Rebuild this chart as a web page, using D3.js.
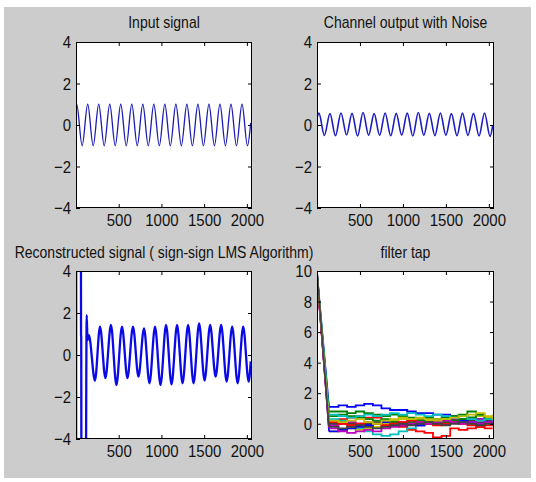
<!DOCTYPE html>
<html><head><meta charset="utf-8">
<script src="https://cdn.jsdelivr.net/npm/d3@7"></script>
<style>
html,body{margin:0;padding:0;background:#fff;}
svg{display:block;}
</style>
</head><body>
<svg id="c" width="536" height="482"></svg>
<script>
// ---------------- data ----------------
const titles = ["Input signal", "Channel output with Noise", "Reconstructed signal ( sign-sign LMS Algorithm)", "filter tap"];
const xTicks = [500, 1000, 1500, 2000];
const signalYTicks = [-4, -2, 0, 2, 4];
const tapYTicks = [0, 2, 4, 6, 8, 10];

// Input signal: start, alternating peaks/troughs, end
const inputX = [1, 8, 72, 137, 201, 266, 330, 395, 459, 524, 588, 653, 717, 782, 846, 911, 975, 1040, 1104, 1169, 1233, 1298, 1362, 1427, 1491, 1556, 1620, 1685, 1749, 1814, 1878, 1943, 2007, 2045];
const inputY = [0.95, 1, -1, 1, -1, 1, -1, 1, -1, 1, -1, 1, -1, 1, -1, 1, -1, 1, -1, 1, -1, 1, -1, 1, -1, 1, -1, 1, -1, 1, -1, 1, -1, 0.1];

// Channel output with noise
const channelX = [1, 22, 86, 151, 215, 279, 344, 408, 472, 536, 601, 665, 729, 793, 858, 922, 986, 1050, 1115, 1179, 1243, 1307, 1372, 1436, 1500, 1564, 1629, 1693, 1757, 1821, 1886, 1950, 2014, 2045];
const channelY = [0.35, 0.57, -0.5, 0.55, -0.52, 0.58, -0.48, 0.56, -0.53, 0.6, -0.5, 0.55, -0.5, 0.58, -0.52, 0.56, -0.49, 0.57, -0.53, 0.6, -0.5, 0.56, -0.51, 0.58, -0.5, 0.55, -0.52, 0.57, -0.5, 0.56, -0.53, 0.58, -0.55, 0.0];

// Reconstructed signal (values beyond +-4 are clipped by the axes)
const reconX = [1, 4, 55, 59, 61, 65, 110, 125, 135, 150, 222, 281, 344, 409, 473, 538, 602, 667, 731, 796, 860, 925, 989, 1054, 1118, 1183, 1247, 1312, 1376, 1441, 1505, 1570, 1634, 1699, 1763, 1828, 1892, 1957, 2021, 2045];
const reconY = [-12, 12, 12, 0.95, 0.9, -12, -12, 1.9, 0.7, 0.95, -1.22, 1.35, -1.1, 1.43, -1.43, 1.35, -1.1, 1.35, -1.03, 1.27, -1.35, 1.35, -1.43, 1.43, -1.4, 1.43, -1.35, 1.43, -1.35, 1.5, -1.22, 1.43, -1.03, 1.43, -1.27, 1.35, -1.35, 1.35, -1.27, -0.3];

// Filter taps: value at sample 1, then stepwise values at knots
const tapKnots = [140, 250, 350, 450, 550, 650, 750, 850, 950, 1050, 1150, 1250, 1350, 1450, 1550, 1650, 1750, 1850, 1950, 2045];
const tapStart = [9.8, 9.6, 9.9, 9.7, 9.5, 9.8, 9.6, 9.9, 9.7, 9.5, 9.8, 9.6, 9.7, 9.9];
const tap0  = [1.1, 1.2, 1.1, 1.2, 1.3, 1.2, 1.0, 0.9, 0.9, 0.8, 0.7, 0.7, 0.6, 0.6, 0.5, 0.5, 0.4, 0.3, 0.3, 0.2];
const tap1  = [0.8, 0.8, 0.7, 0.8, 0.7, 0.6, 0.5, 0.6, 0.5, 0.4, 0.3, 0.4, 0.3, 0.4, 0.5, 0.6, 0.8, 0.5, 0.4, 0.5];
const tap2  = [0.2, 0.3, 0.4, 0.5, 0.4, 0.4, 0.2, 0.0, -0.2, -0.4, -0.5, -0.6, -0.9, -0.8, -0.3, -0.4, -0.3, -0.2, -0.3, -0.3];
const tap3  = [0.3, 0.2, 0.0, -0.3, -0.5, -0.7, -0.8, -0.7, -0.5, -0.3, -0.1, 0.0, 0.1, 0.2, 0.2, 0.1, 0.2, 0.0, 0.1, 0.0];
const tap4  = [-0.1, 0.0, 0.1, 0.0, -0.1, -0.2, -0.1, 0.0, 0.1, 0.0, -0.1, 0.0, 0.1, 0.2, 0.3, 0.2, 0.3, 0.3, 0.2, 0.4];
const tap5  = [-0.5, -0.4, -0.3, -0.4, -0.3, -0.2, 0.0, 0.2, 0.3, 0.2, 0.3, 0.2, 0.3, 0.2, 0.1, 0.3, 0.4, 0.5, 0.4, 0.6];
const tap6  = [0.0, 0.1, 0.0, -0.1, 0.0, 0.1, 0.2, 0.1, 0.0, 0.1, 0.2, 0.1, 0.0, 0.1, 0.2, 0.3, 0.2, 0.1, 0.2, 0.1];
const tap7  = [-0.5, -0.4, -0.3, -0.2, -0.1, 0.0, 0.1, 0.0, -0.1, 0.0, -0.1, 0.0, 0.1, 0.0, 0.1, 0.2, 0.1, 0.0, 0.1, 0.2];
const tap8  = [0.5, 0.6, 0.5, 0.4, 0.3, 0.2, 0.3, 0.1, 0.0, 0.1, 0.2, 0.3, 0.2, 0.1, 0.2, 0.3, 0.4, 0.6, 0.3, 0.5];
const tap9  = [0.1, 0.0, -0.1, 0.0, 0.1, 0.0, -0.1, 0.0, 0.1, 0.2, 0.1, 0.0, -0.1, 0.0, 0.1, 0.0, -0.1, -0.2, -0.1, 0.0];
const tap10 = [0.6, 0.5, 0.4, 0.5, 0.6, 0.5, 0.6, 0.7, 0.6, 0.7, 0.6, 0.5, 0.6, 0.5, 0.4, 0.5, 0.3, 0.2, 0.3, 0.1];
const tap11 = [-0.3, -0.5, -0.6, -0.5, -0.4, -0.5, -0.3, -0.2, -0.1, 0.0, 0.1, 0.0, 0.1, 0.2, 0.1, 0.0, 0.1, 0.0, 0.1, 0.2];
const tap12 = [0.2, 0.1, 0.2, 0.3, 0.1, 0.0, 0.2, 0.3, 0.4, 0.3, 0.4, 0.3, 0.2, 0.3, 0.4, 0.5, 0.6, 0.7, 0.5, 0.3];
const tap13 = [-0.2, -0.3, -0.2, -0.1, -0.2, -0.3, -0.2, -0.1, 0.0, -0.1, 0.0, 0.1, 0.0, -0.1, 0.0, 0.1, 0.0, -0.1, 0.0, -0.1];
const taps = [tap0, tap1, tap2, tap3, tap4, tap5, tap6, tap7, tap8, tap9, tap10, tap11, tap12, tap13];
const tapColors = ["#0000ff", "#008000", "#ff0000", "#00bfbf", "#bf00bf", "#bfbf00", "#404040"];

// ---------------- drawing ----------------
const FONT = "'Liberation Sans', Arial, Helvetica, sans-serif";
const STRETCH = 1.15; // reference text is slightly taller than wide
const svg = d3.select("#c");
svg.append("rect").attr("width", 536).attr("height", 482).attr("fill", "#ffffff");
svg.append("rect").attr("x", 4).attr("y", 7).attr("width", 527).attr("height", 471).attr("fill", "#cccccc");

const xDomain = [0, 2060];
let clipId = 0;

function makePanel(L, yDomain, yTicks, title) {
  const g = svg.append("g");
  g.append("rect").attr("x", L.x).attr("y", L.y).attr("width", L.w).attr("height", L.h).attr("fill", "#ffffff");
  const x = d3.scaleLinear().domain(xDomain).range([L.x, L.x + L.w]);
  const y = d3.scaleLinear().domain(yDomain).range([L.y + L.h, L.y]);
  const id = "clip" + (clipId++);
  svg.append("clipPath").attr("id", id).append("rect")
    .attr("x", L.x).attr("y", L.y).attr("width", L.w).attr("height", L.h);
  const plot = g.append("g").attr("clip-path", `url(#${id})`);

  function finish() {
    const ax = g.append("g").attr("color", "#000");
    const bottom = ax.append("g").attr("transform", `translate(0,${L.y + L.h})`)
      .call(d3.axisBottom(x).tickValues(xTicks).tickSizeInner(-4).tickSizeOuter(0).tickPadding(5).tickFormat(d3.format("d")));
    const top = ax.append("g").attr("transform", `translate(0,${L.y})`)
      .call(d3.axisTop(x).tickValues(xTicks).tickSizeInner(-4).tickSizeOuter(0).tickFormat(""));
    const left = ax.append("g").attr("transform", `translate(${L.x},0)`)
      .call(d3.axisLeft(y).tickValues(yTicks).tickSizeInner(-4).tickSizeOuter(0).tickPadding(5).tickFormat(d3.format("d")));
    const right = ax.append("g").attr("transform", `translate(${L.x + L.w},0)`)
      .call(d3.axisRight(y).tickValues(yTicks).tickSizeInner(-4).tickSizeOuter(0).tickFormat(""));
    [bottom, top, left, right].forEach(a => {
      a.select(".domain").remove();
      a.attr("font-size", 15).attr("font-family", FONT);
      a.selectAll("text").attr("fill", "#111").attr("transform", `scale(1,${STRETCH})`);
    });
    g.append("rect").attr("x", L.x + 0.5).attr("y", L.y + 0.5).attr("width", L.w - 1).attr("height", L.h - 1)
      .attr("fill", "none").attr("stroke", "#000").attr("stroke-width", 1);
    g.append("text").attr("transform", `translate(${L.x + L.w / 2},${L.ty}) scale(1,${STRETCH})`)
      .attr("text-anchor", "middle")
      .attr("font-family", FONT).attr("font-size", 14).attr("fill", "#111").text(title);
  }
  return { g, plot, x, y, finish };
}

const layout = [
  { x: 76, y: 42, w: 176, h: 166, ty: 28 },
  { x: 317, y: 42, w: 177, h: 166, ty: 28 },
  { x: 76, y: 271, w: 176, h: 168, ty: 258 },
  { x: 317, y: 271, w: 177, h: 168, ty: 258 }
];

function drawSignal(P, xs, ys, color, width) {
  const pts = xs.map((v, i) => [v, ys[i]]);
  const line = d3.line().x(d => P.x(d[0])).y(d => P.y(d[1])).curve(d3.curveMonotoneX);
  P.plot.append("path").attr("d", line(pts)).attr("fill", "none")
    .attr("stroke", color).attr("stroke-width", width).attr("stroke-linejoin", "round");
}

// Panel 1
const p1 = makePanel(layout[0], [-4, 4], signalYTicks, titles[0]);
drawSignal(p1, inputX, inputY, "#1c1cb4", 1.3);
p1.finish();

// Panel 2
const p2 = makePanel(layout[1], [-4, 4], signalYTicks, titles[1]);
drawSignal(p2, channelX, channelY, "#1c1cc0", 1.6);
p2.finish();

// Panel 3
const p3 = makePanel(layout[2], [-4, 4], signalYTicks, titles[2]);
drawSignal(p3, reconX, reconY, "#0a0ae6", 2.3);
p3.finish();

// Panel 4
const p4 = makePanel(layout[3], [-1, 10], tapYTicks, titles[3]);
taps.forEach((t, i) => {
  const color = tapColors[i % tapColors.length];
  const drop = d3.line().x(d => p4.x(d[0])).y(d => p4.y(d[1]));
  p4.plot.append("path").attr("d", drop([[1, tapStart[i]], [tapKnots[0], t[0]]]))
    .attr("fill", "none").attr("stroke", color).attr("stroke-width", 1.6);
  const step = d3.line().x(d => p4.x(d[0])).y(d => p4.y(d[1])).curve(d3.curveStepAfter);
  p4.plot.append("path").attr("d", step(tapKnots.map((k, j) => [k, t[j]])))
    .attr("fill", "none").attr("stroke", color).attr("stroke-width", 1.8);
});
p4.finish();
</script>
</body></html>
